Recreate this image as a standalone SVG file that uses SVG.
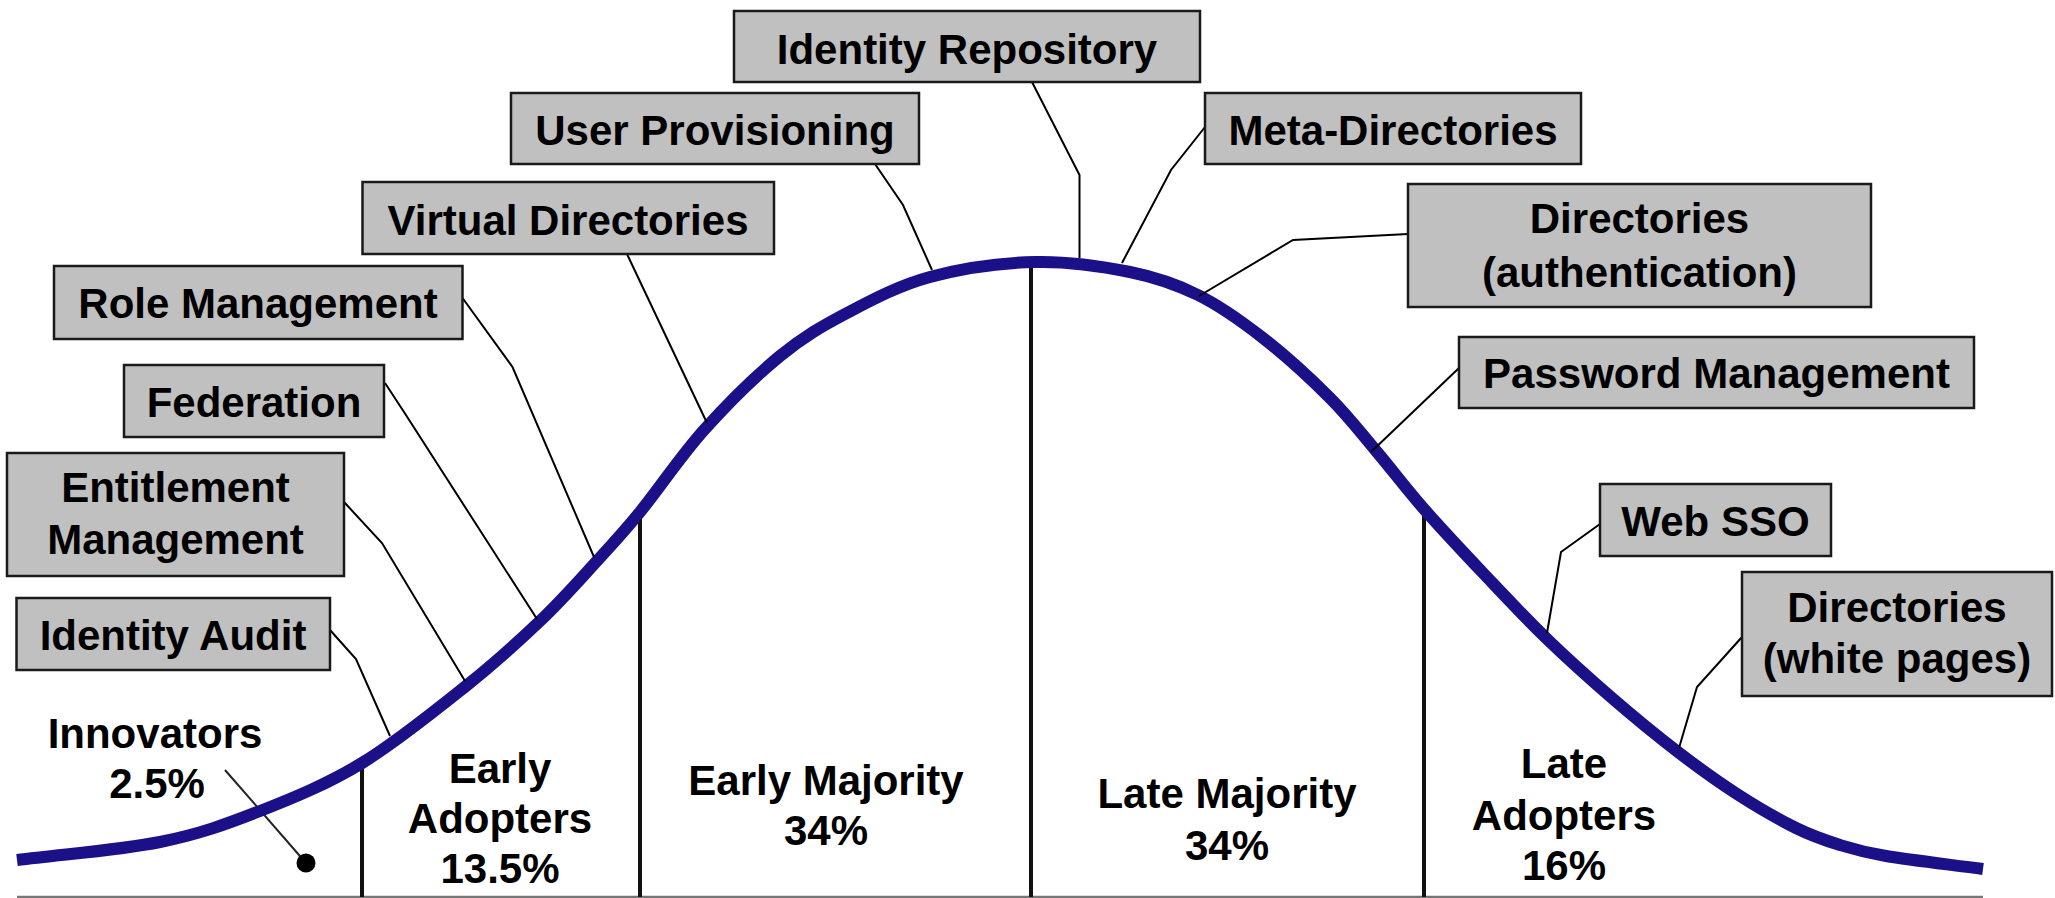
<svg xmlns="http://www.w3.org/2000/svg" width="2055" height="898" viewBox="0 0 2055 898">
  <style>
    .box rect { fill: #c0c0c0; stroke: #1a1a1a; stroke-width: 2.5; }
    text { font-family: "Liberation Sans", Arial, sans-serif; font-weight: bold; font-size: 42px; fill: #000; text-anchor: middle; }
    .conn { fill: none; stroke: #000; stroke-width: 2; stroke-linejoin: miter; }
    .divider { stroke: #111; stroke-width: 4; }
    .curve { fill: none; stroke: #1b1088; stroke-width: 12; stroke-linecap: butt; }
  </style>
  <rect x="0" y="0" width="2055" height="898" fill="#fff"/>

  <!-- baseline -->
  <line x1="17" y1="897" x2="1983" y2="897" stroke="#777" stroke-width="2.5"/>

  <!-- segment dividers -->
  <g id="dividers">
    <line class="divider" x1="362" y1="763" x2="362" y2="897"/>
    <line class="divider" x1="640" y1="512" x2="640" y2="897"/>
    <line class="divider" x1="1031" y1="262" x2="1031" y2="897"/>
    <line class="divider" x1="1424" y1="509" x2="1424" y2="897"/>
  </g>

  <!-- innovators pointer -->
  <g id="innovators-pointer">
    <line x1="225" y1="770" x2="306" y2="863" stroke="#222" stroke-width="2"/>
    <circle cx="306" cy="863" r="9.5" fill="#000"/>
  </g>

  <!-- adoption curve -->
  <path id="adoption-curve" class="curve" d="M17,860
    C64.67,854 119.5,850.17 160,842
    C200.5,833.83 226.33,824.17 260,811
    C293.67,797.83 327.67,783.83 362,763
    C396.33,742.17 436.33,709.67 466,686
    C495.67,662.33 518.33,641.67 540,621
    C561.67,600.33 579.33,580.17 596,562
    C612.67,543.83 622,534 640,512
    C658,490 680.67,456 704,430
    C727.33,404 756.17,375.5 780,356
    C803.83,336.5 822,326.17 847,313
    C872,299.83 898.67,285.5 930,277
    C961.33,268.5 1001.67,262.83 1035,262
    C1068.33,261.17 1102.83,266.5 1130,272
    C1157.17,277.5 1175.83,284 1198,295
    C1220.17,306 1241,320.83 1263,338
    C1285,355.17 1311,379 1330,398
    C1349,417 1361.33,433.5 1377,452
    C1392.67,470.5 1406.17,488.67 1424,509
    C1441.83,529.33 1463.67,552.5 1484,574
    C1504.33,595.5 1524.67,617.33 1546,638
    C1567.33,658.67 1590,679 1612,698
    C1634,717 1657.17,736 1678,752
    C1698.83,768 1717.33,781.33 1737,794
    C1756.67,806.67 1778.83,819.5 1796,828
    C1813.17,836.5 1825,840.33 1840,845
    C1855,849.67 1862.17,852 1886,856
    C1909.83,860 1950.67,864.67 1983,869"/>

  <!-- callout connectors -->
  <g id="connectors">
    <polyline class="conn" points="330,630 356,659 390,736"/>
    <polyline class="conn" points="344,502 382,543 465,681"/>
    <polyline class="conn" points="385,383 404,412 537,619"/>
    <polyline class="conn" points="462.5,298 512.5,367 594,557"/>
    <polyline class="conn" points="627,254 707,423"/>
    <polyline class="conn" points="875,164 903,205 932,270"/>
    <polyline class="conn" points="1032,82 1079.5,175 1079.5,258"/>
    <polyline class="conn" points="1205,127 1171,170 1122,263"/>
    <polyline class="conn" points="1408,234 1293,240 1199,296"/>
    <polyline class="conn" points="1459,368 1371,452"/>
    <polyline class="conn" points="1600,524 1561,552 1547,633"/>
    <polyline class="conn" points="1742,637 1697,687 1679,748"/>
  </g>

  <!-- callout boxes -->
  <g id="identity-repository" class="box">
    <rect x="734" y="11" width="466" height="71"/>
    <text x="967" y="64">Identity Repository</text>
  </g>
  <g id="user-provisioning" class="box">
    <rect x="511" y="93" width="408" height="71"/>
    <text x="715" y="145">User Provisioning</text>
  </g>
  <g id="meta-directories" class="box">
    <rect x="1205" y="93" width="376" height="71"/>
    <text x="1393" y="145">Meta-Directories</text>
  </g>
  <g id="virtual-directories" class="box">
    <rect x="362.5" y="182" width="411.5" height="72"/>
    <text x="568" y="235">Virtual Directories</text>
  </g>
  <g id="directories-authentication" class="box">
    <rect x="1408" y="184" width="463" height="123"/>
    <text x="1639.5" y="233">Directories</text>
    <text x="1639.5" y="287">(authentication)</text>
  </g>
  <g id="role-management" class="box">
    <rect x="54" y="266" width="408.5" height="73"/>
    <text x="258" y="318">Role Management</text>
  </g>
  <g id="password-management" class="box">
    <rect x="1459" y="337" width="515" height="71"/>
    <text x="1716.5" y="388">Password Management</text>
  </g>
  <g id="federation" class="box">
    <rect x="124" y="365" width="260" height="72"/>
    <text x="254" y="417">Federation</text>
  </g>
  <g id="entitlement-management" class="box">
    <rect x="7" y="453" width="337" height="123"/>
    <text x="175.5" y="502">Entitlement</text>
    <text x="175.5" y="554">Management</text>
  </g>
  <g id="web-sso" class="box">
    <rect x="1600" y="484" width="231" height="72"/>
    <text x="1715.5" y="536">Web SSO</text>
  </g>
  <g id="identity-audit" class="box">
    <rect x="16.5" y="598" width="313.5" height="72"/>
    <text x="173" y="650">Identity Audit</text>
  </g>
  <g id="directories-white-pages" class="box">
    <rect x="1742" y="572" width="310" height="124"/>
    <text x="1897" y="622">Directories</text>
    <text x="1897" y="673">(white pages)</text>
  </g>

  <!-- adopter segment labels -->
  <g id="innovators">
    <text x="155" y="748">Innovators</text>
    <text x="157" y="798">2.5%</text>
  </g>
  <g id="early-adopters">
    <text x="500" y="783">Early</text>
    <text x="500" y="833">Adopters</text>
    <text x="500" y="883">13.5%</text>
  </g>
  <g id="early-majority">
    <text x="826" y="795">Early Majority</text>
    <text x="826" y="845">34%</text>
  </g>
  <g id="late-majority">
    <text x="1227" y="808">Late Majority</text>
    <text x="1227" y="860">34%</text>
  </g>
  <g id="late-adopters">
    <text x="1564" y="778">Late</text>
    <text x="1564" y="830">Adopters</text>
    <text x="1564" y="880">16%</text>
  </g>
</svg>
